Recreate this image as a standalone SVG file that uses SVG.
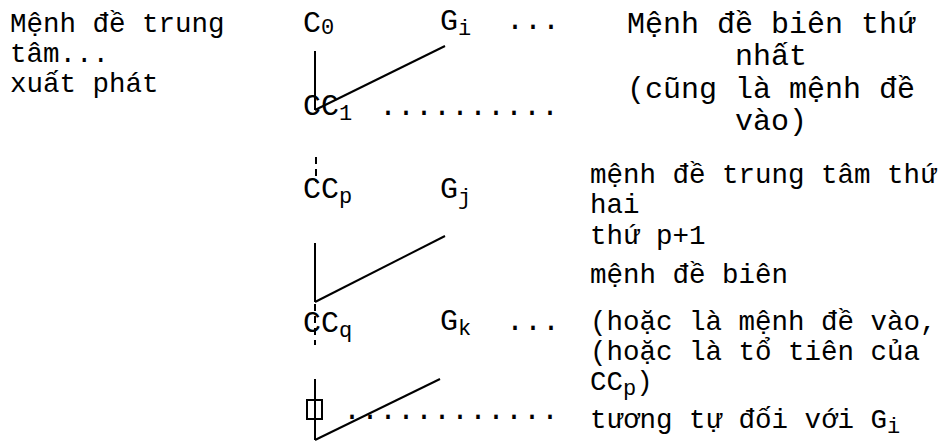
<svg xmlns="http://www.w3.org/2000/svg" width="948" height="448" viewBox="0 0 948 448">
<style>
text{font-family:"Liberation Mono","DejaVu Sans Mono",monospace;fill:#000}
.t{font-size:27.5px}
.d{font-size:30px}
.s{font-size:22px}
.ln{stroke:#000;stroke-width:2;fill:none}
.dash{stroke:#000;stroke-width:2;fill:none;stroke-dasharray:7,5}
</style>
<rect width="948" height="448" fill="#fff"/>
<g id="connectors">
<line class="ln" x1="315" y1="51" x2="315" y2="110"/>
<line class="ln" x1="315" y1="110" x2="445" y2="46"/>
<line class="dash" x1="316" y1="157" x2="316" y2="182"/>
<line class="ln" x1="315" y1="243" x2="315" y2="302"/>
<line class="ln" x1="315" y1="302" x2="445" y2="236"/>
<line class="dash" x1="315" y1="304" x2="315" y2="345"/>
<line class="ln" x1="315" y1="379" x2="315" y2="440"/>
<line class="ln" x1="315" y1="440" x2="440" y2="379"/>
<rect class="ln" x="307" y="400" width="15" height="19"/>
</g>
<g id="left-label">
<text class="t" x="10" y="32">Mệnh đề trung</text>
<text class="t" x="10" y="62">tâm...</text>
<text class="t" x="10" y="92">xuất phát</text>
</g>
<g id="node-C0"><text class="d" x="303" y="32">C<tspan class="s" dy="2">0</tspan></text></g>
<g id="node-Gi"><text class="d" x="440" y="30">G<tspan class="s" dy="5">i</tspan></text><text class="d" x="506" y="29">...</text></g>
<g id="node-CC1"><text class="d" x="303" y="115">CC<tspan class="s" dy="5">1</tspan></text><text class="d" x="379" y="115">..........</text></g>
<g id="node-CCp"><text class="d" x="303" y="198">CC<tspan class="s" dy="5">p</tspan></text></g>
<g id="node-Gj"><text class="d" x="440" y="198">G<tspan class="s" dy="6">j</tspan></text></g>
<g id="node-CCq"><text class="d" x="303" y="332">CC<tspan class="s" dy="5">q</tspan></text></g>
<g id="node-Gk"><text class="d" x="440" y="330">G<tspan class="s" dy="5">k</tspan></text><text class="d" x="506" y="330">...</text></g>
<g id="node-bottom"><text class="d" x="343" y="419">............</text></g>
<g id="label-1">
<text class="d" text-anchor="middle" x="771" y="33">Mệnh đề biên thứ</text>
<text class="d" text-anchor="middle" x="771" y="65">nhất</text>
<text class="d" text-anchor="middle" x="771" y="98">(cũng là mệnh đề</text>
<text class="d" text-anchor="middle" x="771" y="130">vào)</text>
</g>
<g id="label-2">
<text class="t" x="590" y="183">mệnh đề trung tâm thứ</text>
<text class="t" x="590" y="213">hai</text>
<text class="t" x="590" y="244">thứ p+1</text>
<text class="t" x="590" y="283">mệnh đề biên</text>
</g>
<g id="label-3">
<text class="t" x="590" y="330">(hoặc là mệnh đề vào,</text>
<text class="t" x="590" y="360">(hoặc là tổ tiên của</text>
<text class="t" x="590" y="390">CC<tspan class="s" dy="5">p</tspan><tspan dy="-5">)</tspan></text>
<text class="t" x="590" y="428">tương tự đối với G<tspan class="s" dy="5">i</tspan></text>
</g>
</svg>
